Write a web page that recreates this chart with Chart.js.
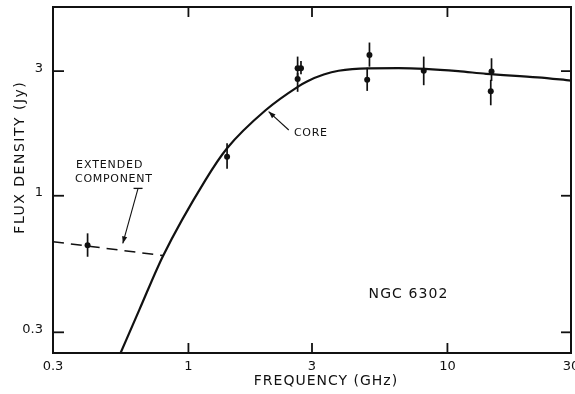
<!DOCTYPE html>
<html>
<head>
<meta charset="utf-8">
<script src="https://cdn.jsdelivr.net/npm/chart.js@4/dist/chart.umd.min.js"></script>
<style>
  html, body { margin: 0; padding: 0; background: #fff; }
  canvas { display: block; }
</style>
</head>
<body>
<canvas id="c" width="575" height="394"></canvas>
<script>
// Radio spectrum of NGC 6302: core + extended component

const freqTicks = [0.3, 1, 3, 10, 30];
const freqTickLabels = ['0.3', '1', '3', '10', '30'];
const fluxTicks = [0.3, 1, 3];
const fluxTickLabels = ['0.3', '1', '3'];

// measured flux densities (GHz, Jy) with error-bar limits
const obsFreq = [0.408, 1.41, 2.64, 2.72, 2.64, 4.9, 5.0, 8.1, 14.8, 14.7];
const obsFlux = [0.647, 1.41, 3.08, 3.08, 2.80, 2.78, 3.46, 3.01, 2.99, 2.51];
const obsLow  = [0.584, 1.27, 2.80, 2.92, 2.50, 2.52, 3.12, 2.65, 2.75, 2.22];
const obsHigh = [0.718, 1.59, 3.41, 3.28, 2.95, 3.09, 3.86, 3.41, 3.36, 2.78];

// core spectrum
const coreFreq = [0.547, 0.648, 0.797, 1.163, 1.41, 1.99, 2.67, 2.87, 3.33, 3.8, 4.96, 6.47, 8.2, 11, 14.1, 22.3, 30];
const coreFlux = [0.25, 0.368, 0.587, 1.148, 1.52, 2.13, 2.63, 2.74, 2.91, 3.01, 3.075, 3.08, 3.06, 3.0, 2.93, 2.84, 2.76];

// extended component
const extFreq = [0.3, 0.80];
const extFlux = [0.667, 0.59];

// annotation anchors (GHz, Jy)
const coreArrow = { from: [2.44, 1.785], to: [2.04, 2.10] };
const coreLabel = [2.554, 1.734];
const extArrow = { from: [0.639, 1.067], to: [0.558, 0.657] };
const extLabel = [0.365, 1.311];
const nameLabel = [4.96, 0.419];

const ink = '#111';
const FONT = '"DejaVu Sans", sans-serif';

const toPts = (xs, ys) => xs.map((v, i) => ({ x: v, y: ys[i] }));

function drawText(ctx, s, px, py, size, spacing, align) {
  ctx.font = size + 'px ' + FONT;
  ctx.letterSpacing = spacing + 'px';
  ctx.textAlign = align || 'left';
  ctx.textBaseline = 'middle';
  ctx.fillStyle = ink;
  ctx.fillText(s, px, py);
}

function arrow(ctx, x0, y0, x1, y1) {
  ctx.beginPath(); ctx.moveTo(x0, y0); ctx.lineTo(x1, y1); ctx.stroke();
  const ang = Math.atan2(y1 - y0, x1 - x0);
  const L = 7, W = 2.6;
  ctx.beginPath();
  ctx.moveTo(x1, y1);
  ctx.lineTo(x1 - L * Math.cos(ang) + W * Math.sin(ang), y1 - L * Math.sin(ang) - W * Math.cos(ang));
  ctx.lineTo(x1 - L * Math.cos(ang) - W * Math.sin(ang), y1 - L * Math.sin(ang) + W * Math.cos(ang));
  ctx.closePath(); ctx.fill();
}

const decor = {
  id: 'decor',
  afterDatasetsDraw(chart) {
    const { ctx, chartArea: a, scales: { x, y } } = chart;
    const P = (p) => [x.getPixelForValue(p[0]), y.getPixelForValue(p[1])];
    ctx.save();
    ctx.strokeStyle = ink; ctx.fillStyle = ink;

    // error bars
    ctx.lineWidth = 1.7;
    obsFreq.forEach((f, i) => {
      const px = x.getPixelForValue(f);
      ctx.beginPath();
      ctx.moveTo(px, y.getPixelForValue(obsHigh[i]));
      ctx.lineTo(px, y.getPixelForValue(obsLow[i]));
      ctx.stroke();
    });

    // frame
    ctx.lineWidth = 2;
    ctx.strokeRect(a.left, a.top, a.width, a.height);

    // inward tick marks on all four sides
    ctx.lineWidth = 1.8;
    const seg = (x0, y0, x1, y1) => { ctx.beginPath(); ctx.moveTo(x0, y0); ctx.lineTo(x1, y1); ctx.stroke(); };
    freqTicks.forEach(v => {
      if (v <= x.min || v >= x.max) return;
      const px = x.getPixelForValue(v);
      seg(px, a.bottom, px, a.bottom - 10);
      seg(px, a.top, px, a.top + 10);
    });
    fluxTicks.forEach(v => {
      const py = y.getPixelForValue(v);
      seg(a.left, py, a.left + 11, py);
      seg(a.right, py, a.right - 10, py);
    });

    // arrows
    ctx.lineWidth = 1.1;
    let f = P(coreArrow.from), t = P(coreArrow.to);
    arrow(ctx, f[0], f[1], t[0], t[1]);
    f = P(extArrow.from); t = P(extArrow.to);
    arrow(ctx, f[0], f[1], t[0], t[1]);
    ctx.lineWidth = 1.3;
    seg(f[0] - 4.5, f[1], f[0] + 4.5, f[1]);

    // labels
    let p = P(coreLabel);
    drawText(ctx, 'CORE', p[0], p[1], 11, 0.7);
    p = P(extLabel);
    drawText(ctx, 'EXTENDED', p[0] + 1, p[1], 11, 0.9);
    drawText(ctx, 'COMPONENT', p[0], p[1] + 14, 11, 0.7);
    p = P(nameLabel);
    drawText(ctx, 'NGC 6302', p[0], p[1], 14, 1.1);

    // axis titles
    drawText(ctx, 'FREQUENCY (GHz)', a.left + a.width * 0.527, a.bottom + 28.5, 14, 1, 'center');
    ctx.save();
    ctx.translate(20, a.top + a.height * 0.434);
    ctx.rotate(-Math.PI / 2);
    drawText(ctx, 'FLUX DENSITY (Jy)', 0, 0, 14, 1.5, 'center');
    ctx.restore();

    ctx.restore();
  }
};

new Chart(document.getElementById('c'), {
  type: 'scatter',
  data: {
    datasets: [
      {
        data: toPts(coreFreq, coreFlux),
        showLine: true, borderColor: ink, borderWidth: 2.2,
        pointRadius: 0, cubicInterpolationMode: 'monotone'
      },
      {
        data: toPts(extFreq, extFlux),
        showLine: true, borderColor: ink, borderWidth: 1.6,
        borderDash: [11, 7], pointRadius: 0
      },
      {
        data: toPts(obsFreq, obsFlux),
        showLine: false, pointRadius: 3, pointBackgroundColor: ink,
        pointBorderWidth: 0
      }
    ]
  },
  options: {
    responsive: false,
    animation: false,
    devicePixelRatio: 1,
    layout: { padding: { top: 7, right: 2, left: 0, bottom: 0 } },
    plugins: { legend: { display: false }, tooltip: { enabled: false } },
    scales: {
      x: {
        type: 'logarithmic', min: 0.3, max: 30,
        afterBuildTicks: s => { s.ticks = freqTicks.map(v => ({ value: v })); },
        afterFit: s => { s.height = 41; s.paddingLeft = 0; s.paddingRight = 0; },
        grid: { display: false, drawTicks: false },
        border: { display: false },
        ticks: {
          autoSkip: false, maxRotation: 0, padding: 6, color: ink,
          font: { family: FONT, size: 13 },
          callback: (v, i) => freqTickLabels[i]
        }
      },
      y: {
        type: 'logarithmic', min: 0.25, max: 5.28,
        afterBuildTicks: s => { s.ticks = fluxTicks.map(v => ({ value: v })); },
        afterFit: s => { s.width = 53; s.paddingTop = 0; s.paddingBottom = 0; },
        grid: { display: false, drawTicks: false },
        border: { display: false },
        ticks: {
          autoSkip: false, padding: 10, color: ink, labelOffset: -3,
          font: { family: FONT, size: 13 },
          callback: (v, i) => fluxTickLabels[i]
        }
      }
    }
  },
  plugins: [decor]
});
</script>
</body>
</html>
